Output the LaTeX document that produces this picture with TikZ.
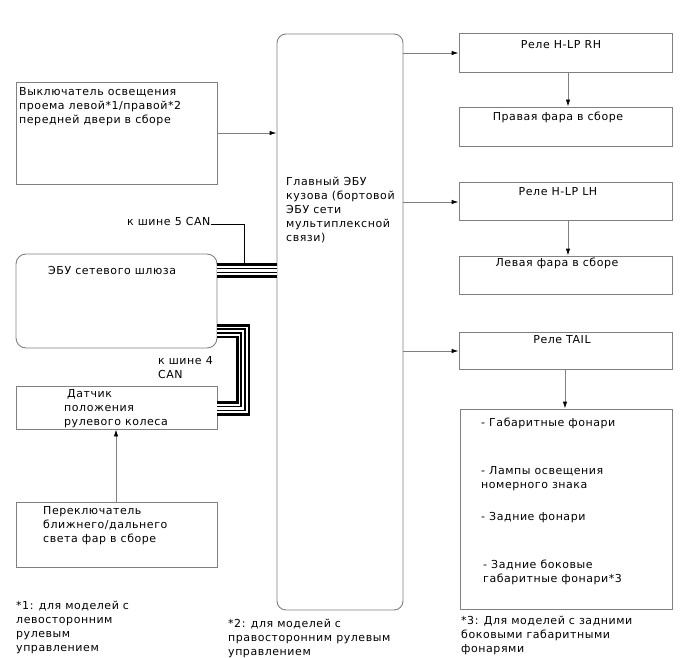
\documentclass[tikz,border=0pt]{standalone}
\usepackage{fontspec}
\setmainfont{DejaVu Sans}[LetterSpace=5]
\usetikzlibrary{arrows.meta}
\definecolor{edge}{RGB}{128,128,128}
\tikzset{
  box/.style={draw=edge, line width=0.9pt, inner sep=0pt},
  rbox/.style={box, rounded corners=9pt},
  txt/.style={anchor=north west, inner sep=0pt, align=left, font=\fontsize{11}{14}\selectfont},
  ctxt/.style={anchor=north, inner sep=0pt, align=center, font=\fontsize{11}{14}\selectfont},
  conn/.style={draw=edge, line width=0.9pt, -{Latex[length=7pt,width=4.5pt,color=black]}},
  buswire/.style={line width=1pt, black}
}
\newcommand{\canbus}[1]{%
  \draw[line width=14.5pt, black] #1;
  \draw[line width=9pt, white] #1;
  \draw[line width=5.5pt, black] #1;
  \draw[line width=2.5pt, white] #1;}
\begin{document}
\begin{tikzpicture}[x=1pt,y=-1pt]
\useasboundingbox (0,0) rectangle (688,658);
% boxes
\node[rbox, minimum width=126pt, minimum height=576pt] (ecu) at (340,322) {};
\node[box, minimum width=201pt, minimum height=102pt] (sw) at (116.5,133) {};
\node[rbox, rounded corners=10pt, minimum width=201pt, minimum height=94pt] (gw) at (116.5,301) {};
\node[box, minimum width=201pt, minimum height=43pt] (sas) at (116.5,407.5) {};
\node[box, minimum width=201pt, minimum height=65pt] (hl) at (116.5,534.5) {};
\node[box, minimum width=213pt, minimum height=39pt] (rrh) at (565.5,52.5) {};
\node[box, minimum width=213pt, minimum height=39pt] (frh) at (565.5,126.5) {};
\node[box, minimum width=213pt, minimum height=38pt] (rlh) at (565.5,201) {};
\node[box, minimum width=213pt, minimum height=38pt] (flh) at (565.5,275) {};
\node[box, minimum width=213pt, minimum height=37pt] (rtail) at (565.5,350.5) {};
\node[box, minimum width=212pt, minimum height=200pt] (lamps) at (566,509) {};
% texts
\node[txt] (t-sw) at (19,87) {Выключатель освещения\\проема левой*1/правой*2\\передней двери в сборе};
\node[txt] (t-gw) at (48,266) {ЭБУ сетевого шлюза};
\node[txt] (t-can5) at (127,217) {к шине 5 CAN};
\node[txt] (t-can4) at (158,356) {к шине 4\\CAN};
\node[txt] (t-sas) at (64,389) {\hspace*{3pt}Датчик\\положения\\рулевого колеса};
\node[txt] (t-hl) at (43,506) {Переключатель\\ближнего/дальнего\\света фар в сборе};
\node[txt] (t-n1) at (16,601) {*1: для моделей с\\левосторонним\\рулевым\\управлением};
\node[txt] (t-n2) at (228,619) {*2: для моделей с\\правосторонним рулевым\\управлением};
\node[txt] (t-ecu) at (286,177) {Главный ЭБУ\\кузова (бортовой\\ЭБУ сети\\мультиплексной\\связи)};
\node[ctxt] (t-rrh) at (561,40) {Реле H-LP RH};
\node[ctxt] (t-frh) at (558,112) {Правая фара в сборе};
\node[ctxt] (t-rlh) at (558,187) {Реле H-LP LH};
\node[ctxt] (t-flh) at (557,258) {Левая фара в сборе};
\node[ctxt] (t-rtail) at (562,335) {Реле TAIL};
\node[txt] (t-l1) at (481,418) {- Габаритные фонари};
\node[txt] (t-l2) at (481,466) {- Лампы освещения\\номерного знака};
\node[txt] (t-l3) at (481,512) {- Задние фонари};
\node[txt] (t-l4) at (483,560) {- Задние боковые\\габаритные фонари*3};
\node[txt] (t-n3) at (461,616) {*3: Для моделей с задними\\боковыми габаритными\\фонарями};
% connectors
\draw[conn] (sw.east |- 0,133) -- (ecu.west |- 0,133);
\draw[conn] (ecu.east |- 0,53) -- (rrh.west |- 0,53);
\draw[conn] (ecu.east |- 0,202) -- (rlh.west |- 0,202);
\draw[conn] (ecu.east |- 0,351) -- (rtail.west |- 0,351);
\draw[conn] (rrh.south -| 568,0) -- (frh.north -| 568,0);
\draw[conn] (rlh.south -| 568,0) -- (flh.north -| 568,0);
\draw[conn] (rtail.south -| 565,0) -- (lamps.north -| 565,0);
\draw[conn] (hl.north -| 116,0) -- (sas.south -| 116,0);
% CAN buses
\coordinate (c5a) at (gw.east |- 0,270.5);
\coordinate (c5b) at (ecu.west |- 0,270.5);
\canbus{(c5a) -- (c5b)}
\coordinate (c4a) at (gw.east |- 0,331);
\coordinate (c4b) at (243,331);
\coordinate (c4c) at (243,408.5);
\coordinate (c4d) at (sas.east |- 0,408.5);
\canbus{(c4a) -- (c4b) -- (c4c) -- (c4d)}
\coordinate (c5t) at (244,224);
\draw[buswire] (t-can5.east |- c5t) -- (c5t) -- (244,263.5);
\end{tikzpicture}
\end{document}
